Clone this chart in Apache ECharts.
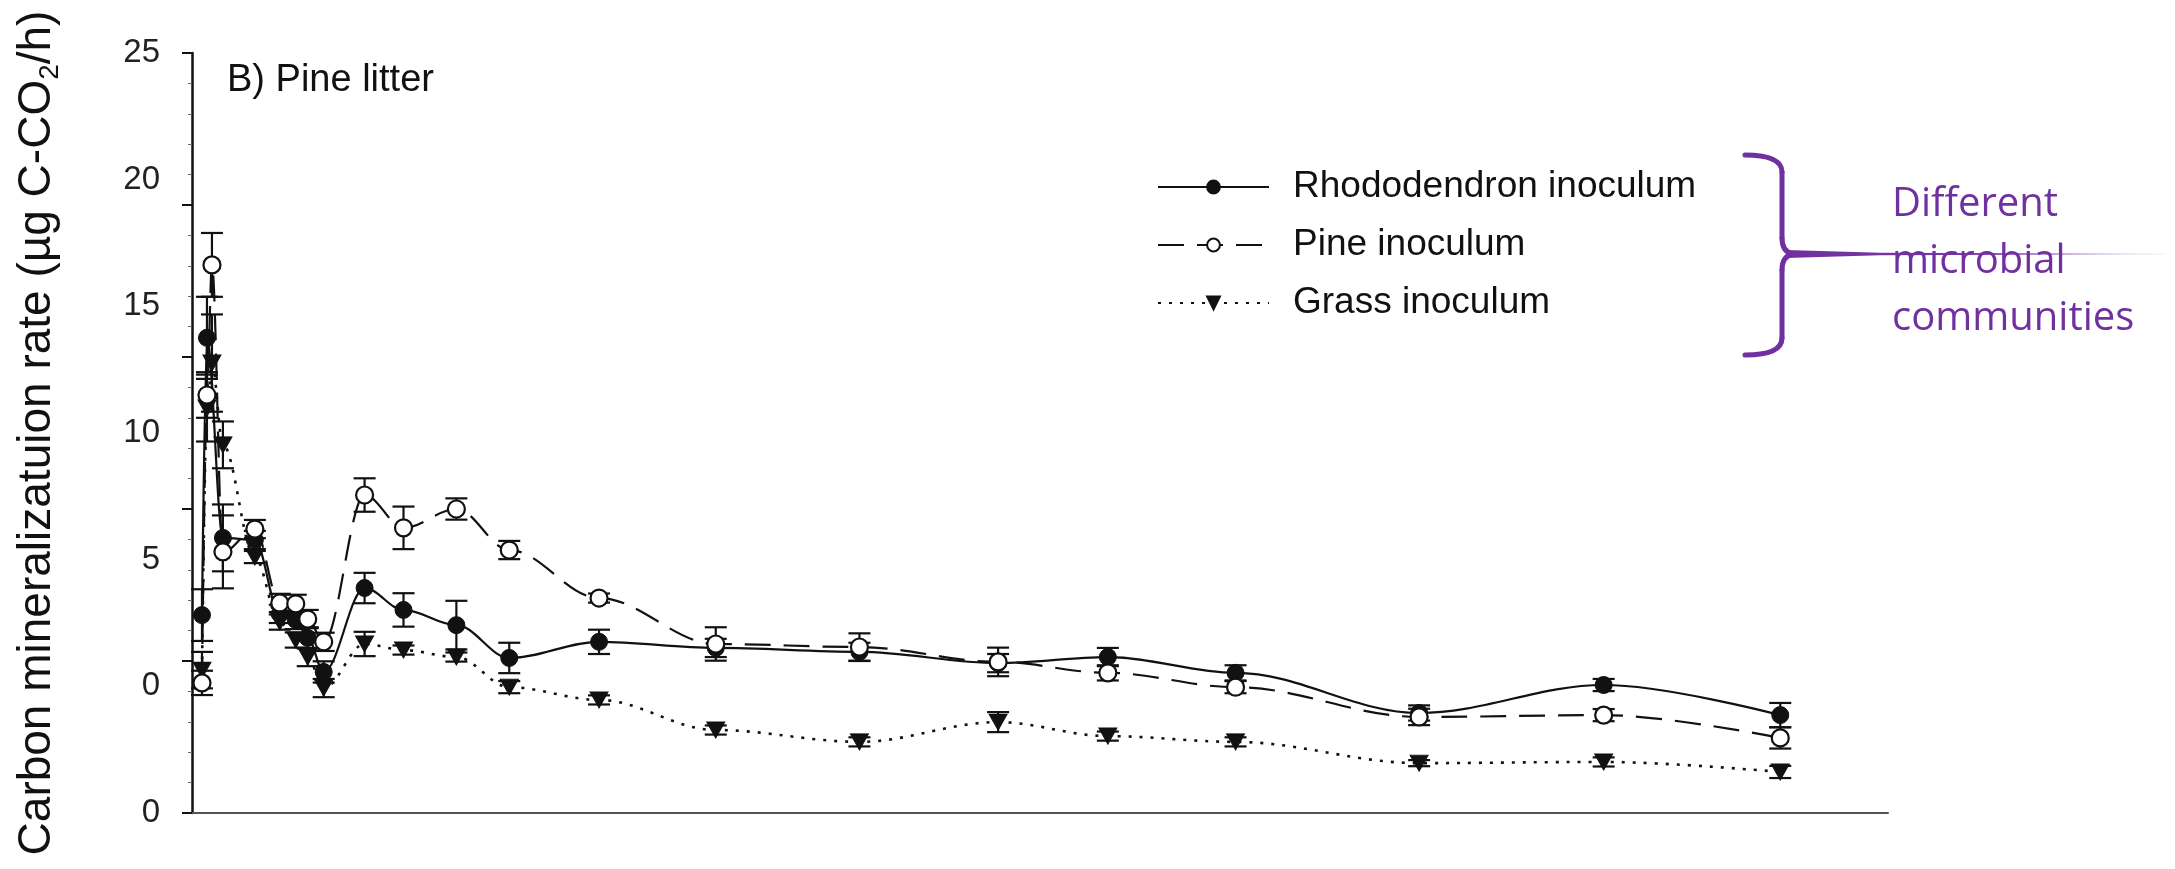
<!DOCTYPE html>
<html>
<head>
<meta charset="utf-8">
<script src="https://cdn.jsdelivr.net/npm/echarts@6/dist/echarts.min.js"></script>
<style>
  html, body { margin: 0; padding: 0; background: #ffffff; }
  #chart { width: 2175px; height: 869px; }
</style>
</head>
<body>
<div id="chart"></div>
<script>
// Incubation time of each sampling (days)
const days = [1.0, 1.5, 2.0, 3.1, 6.3, 8.8, 10.4, 11.6, 13.2, 17.3, 21.2, 26.5, 31.8, 40.8, 52.5, 66.9, 80.8, 91.8, 104.6, 123.0, 141.5, 159.2];

// Mineralization rate per inoculum (null = sample not shown)
const rhododendron = [6.51, 15.63, null, 9.05, 8.98, 6.55, 6.35, 5.76, 4.64, 7.40, 6.68, 6.18, 5.10, 5.63, 5.43, 5.30, 4.93, 5.13, 4.61, 3.29, 4.21, 3.22];
const pine         = [4.28, 13.75, 18.03, 8.59, 9.34, 6.91, 6.88, 6.38, 5.63, 10.46, 9.38, 10.00, 8.65, 7.07, 5.56, 5.46, 4.97, 4.61, 4.14, 3.16, 3.22, 2.47];
const grass        = [4.70, 13.32, 14.80, 12.11, 8.42, 6.28, 5.69, 5.13, 4.11, 5.56, 5.36, 5.13, 4.14, 3.72, 2.73, 2.34, 2.99, 2.53, 2.34, 1.64, 1.68, 1.35];

// Standard errors
const rhododendronErr = [0.85, 1.35, null, 1.10, 0.30, 0.30, 0.30, 0.35, 0.35, 0.50, 0.55, 0.80, 0.50, 0.40, 0.30, 0.30, 0.30, 0.30, 0.25, 0.25, 0.20, 0.40];
const pineErr         = [0.40, 0.75, 1.05, 1.20, 0.30, 0.30, 0.30, 0.30, 0.30, 0.55, 0.70, 0.35, 0.30, 0.15, 0.55, 0.45, 0.47, 0.25, 0.20, 0.27, 0.20, 0.35];
const grassErr        = [0.60, 1.10, 1.60, 0.77, 0.20, 0.25, 0.25, 0.30, 0.30, 0.40, 0.15, 0.15, 0.20, 0.15, 0.15, 0.15, 0.33, 0.15, 0.15, 0.10, 0.15, 0.20];

// Printed y tick labels
const tickLabels = ['0', '0', '5', '10', '15', '20', '25'];

const seriesNames = ['Rhododendron inoculum', 'Pine inoculum', 'Grass inoculum'];

const INK = '#111111';
const PURPLE = '#7030A0';
const FONT = '"Liberation Sans", Arial, Helvetica, sans-serif';

function points(values) {
  return days.map((d, i) => [d, values[i]]);
}

function errorRows(values, errs) {
  const rows = [];
  days.forEach((d, i) => {
    if (values[i] !== null && errs[i] !== null) {
      rows.push([d, values[i] - errs[i], values[i] + errs[i]]);
    }
  });
  return rows;
}

function renderErrorBar(params, api) {
  const x = api.value(0);
  const lo = api.coord([x, api.value(1)]);
  const hi = api.coord([x, api.value(2)]);
  const half = 11;
  const style = { stroke: INK, lineWidth: 2.2, fill: null };
  return {
    type: 'group',
    children: [
      { type: 'line', shape: { x1: lo[0], y1: lo[1], x2: hi[0], y2: hi[1] }, style },
      { type: 'line', shape: { x1: lo[0] - half, y1: lo[1], x2: lo[0] + half, y2: lo[1] }, style },
      { type: 'line', shape: { x1: hi[0] - half, y1: hi[1], x2: hi[0] + half, y2: hi[1] }, style }
    ]
  };
}

function errorSeries(name, values, errs) {
  return {
    name: name,
    type: 'custom',
    renderItem: renderErrorBar,
    data: errorRows(values, errs),
    encode: { x: 0, y: [1, 2] },
    z: 1,
    silent: true
  };
}

// Purple curly bracket pieces
const bracketStyle = { stroke: PURPLE, lineWidth: 5, fill: null, lineCap: 'round' };
function bracketCurve(x1, y1, cx, cy, x2, y2) {
  return { type: 'bezierCurve', shape: { x1, y1, cpx1: cx, cpy1: cy, x2, y2 }, style: bracketStyle, z: 10 };
}
function bracketLine(x1, y1, x2, y2) {
  return { type: 'line', shape: { x1, y1, x2, y2 }, style: bracketStyle, z: 10 };
}

const chart = echarts.init(document.getElementById('chart'), null, { renderer: 'canvas' });

chart.setOption({
  animation: false,
  backgroundColor: '#ffffff',
  title: {
    text: 'B) Pine litter',
    left: 222,
    top: 57,
    textStyle: { fontFamily: FONT, fontSize: 38, fontWeight: 'normal', color: INK }
  },
  legend: {
    data: seriesNames,
    orient: 'vertical',
    left: 1152,
    top: 162,
    itemWidth: 111,
    itemHeight: 16,
    itemGap: 18,
    textStyle: { fontFamily: FONT, fontSize: 37, color: INK, lineHeight: 40, padding: [0, 0, 0, 19] }
  },
  grid: { left: 192, right: 287, top: 53, bottom: 56, containLabel: false },
  xAxis: {
    type: 'value',
    min: 0,
    max: 170,
    axisLine: { show: true, onZero: false, lineStyle: { color: '#555555', width: 2 } },
    axisTick: { show: false },
    axisLabel: { show: false },
    splitLine: { show: false }
  },
  yAxis: [
    {
      type: 'value',
      min: 0,
      max: 25,
      interval: 5,
      position: 'left',
      axisLine: { show: true, lineStyle: { color: INK, width: 2.5 } },
      axisTick: { show: true, inside: false, length: 10, lineStyle: { color: INK, width: 2 } },
      minorTick: { show: true, splitNumber: 5, length: 4, lineStyle: { color: '#666666', width: 1 } },
      axisLabel: { show: false },
      splitLine: { show: false }
    },
    {
      type: 'value',
      min: 0,
      max: 6,
      interval: 1,
      position: 'left',
      axisLine: { show: false },
      axisTick: { show: false },
      splitLine: { show: false },
      axisLabel: {
        margin: 32,
        fontFamily: FONT,
        fontSize: 33,
        color: '#222222',
        formatter: (v) => (Number.isInteger(v) && tickLabels[v] !== undefined ? tickLabels[v] : '')
      },
      name: '{a|Carbon mineralizatuion rate (µg C-CO}{b|2}{a|/h)}',
      nameLocation: 'middle',
      nameRotate: 90,
      nameGap: 128,
      nameTextStyle: {
        rich: {
          a: { fontFamily: FONT, fontSize: 46, lineHeight: 54, color: INK },
          b: { fontFamily: FONT, fontSize: 28, lineHeight: 28, verticalAlign: 'bottom', color: INK }
        }
      }
    }
  ],
  series: [
    errorSeries('Rhododendron SE', rhododendron, rhododendronErr),
    errorSeries('Pine SE', pine, pineErr),
    errorSeries('Grass SE', grass, grassErr),
    {
      name: seriesNames[0],
      type: 'line',
      data: points(rhododendron),
      connectNulls: true,
      smooth: 0.35,
      smoothMonotone: 'x',
      symbol: 'circle',
      symbolSize: 17,
      itemStyle: { color: INK, borderColor: INK, borderWidth: 1 },
      lineStyle: { color: INK, width: 2.2, type: 'solid' },
      z: 4
    },
    {
      name: seriesNames[1],
      type: 'line',
      data: points(pine),
      connectNulls: true,
      smooth: 0.35,
      smoothMonotone: 'x',
      symbol: 'circle',
      symbolSize: 17,
      itemStyle: { color: '#ffffff', borderColor: INK, borderWidth: 2.2 },
      lineStyle: { color: INK, width: 2.2, type: [26, 13] },
      z: 5
    },
    {
      name: seriesNames[2],
      type: 'line',
      data: points(grass),
      connectNulls: true,
      smooth: 0.35,
      smoothMonotone: 'x',
      symbol: 'triangle',
      symbolRotate: 180,
      symbolSize: [18, 16],
      itemStyle: { color: INK, borderColor: INK, borderWidth: 1 },
      lineStyle: { color: INK, width: 2.6, type: [3, 8] },
      z: 3
    }
  ],
  graphic: [
    bracketCurve(1745, 155, 1782, 155, 1782, 172),
    bracketLine(1782, 172, 1782, 238),
    bracketCurve(1782, 238, 1782, 252, 1793, 254),
    bracketCurve(1793, 254, 1782, 256, 1782, 270),
    bracketLine(1782, 270, 1782, 338),
    bracketCurve(1782, 338, 1782, 355, 1745, 355),
    {
      type: 'polygon',
      shape: { points: [[1786, 250], [1880, 252.8], [2165, 253.7], [2165, 254.3], [1880, 255.2], [1786, 258]] },
      style: {
        fill: {
          type: 'linear', x: 0, y: 0, x2: 1, y2: 0,
          colorStops: [
            { offset: 0, color: PURPLE },
            { offset: 0.55, color: 'rgba(112,48,160,0.95)' },
            { offset: 1, color: 'rgba(112,48,160,0.15)' }
          ]
        }
      },
      z: 10
    },
    {
      type: 'text',
      x: 1892,
      y: 176,
      style: {
        text: 'Different\nmicrobial\ncommunities',
        fontFamily: '"Open Sans", "Noto Sans", sans-serif',
        fontSize: 40,
        lineHeight: 57,
        fill: PURPLE,
        verticalAlign: 'top'
      },
      z: 9
    }
  ]
});
</script>
</body>
</html>
